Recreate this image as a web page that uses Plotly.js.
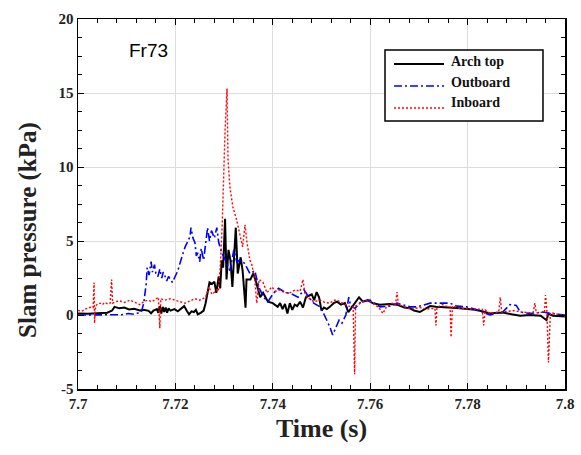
<!DOCTYPE html>
<html>
<head>
<meta charset="utf-8">
<script src="https://cdn.plot.ly/plotly-3.0.1.min.js"></script>
<style>
html,body{margin:0;padding:0;background:#fff;}
#chart{width:581px;height:455px;}
</style>
</head>
<body>
<div id="chart"></div>
<script>
// ---- Data ----
const seriesNames = ["Arch top", "Outboard", "Inboard"];

const archTime = [7.7000,7.7020,7.7040,7.7060,7.7070,7.7075,7.7085,7.7095,7.7105,7.7115,7.7127,7.7135,7.7145,7.7150,7.7155,7.7162,7.7165,7.7168,7.7171,7.7174,7.7177,7.7180,7.7183,7.7186,7.7190,7.7198,7.7205,7.7212,7.7218,7.7223,7.7228,7.7233,7.7238,7.7242,7.7246,7.7252,7.7258,7.7262,7.7266,7.7270,7.7275,7.7280,7.7284,7.7289,7.7292,7.7295,7.7298,7.7302,7.7305,7.7309,7.7313,7.7317,7.7321,7.7324,7.7328,7.7334,7.7338,7.7344,7.7346,7.7354,7.7360,7.7366,7.7374,7.7380,7.7390,7.7400,7.7410,7.7415,7.7420,7.7425,7.7430,7.7435,7.7440,7.7445,7.7450,7.7456,7.7462,7.7468,7.7474,7.7480,7.7485,7.7490,7.7495,7.7500,7.7505,7.7511,7.7517,7.7525,7.7532,7.7540,7.7548,7.7555,7.7562,7.7570,7.7577,7.7585,7.7595,7.7605,7.7620,7.7640,7.7655,7.7670,7.7682,7.7690,7.7702,7.7712,7.7723,7.7735,7.7743,7.7760,7.7784,7.7800,7.7815,7.7830,7.7846,7.7860,7.7875,7.7890,7.7908,7.7928,7.7940,7.7950,7.7962,7.7966,7.7975,7.7990,7.8000];
const archP = [0.10,0.08,0.12,0.15,0.30,0.55,0.45,0.50,0.38,0.42,0.30,0.35,0.28,0.12,0.30,0.40,0.15,0.60,0.10,0.55,0.20,0.50,0.15,0.45,0.30,0.40,0.25,0.45,0.60,0.30,0.05,0.25,0.20,0.35,0.05,0.15,0.30,0.80,1.60,2.20,2.10,2.25,1.50,2.60,1.80,3.70,3.20,6.50,2.40,4.40,3.70,1.90,4.20,5.90,2.80,3.90,3.00,0.50,2.40,2.40,2.80,2.20,1.20,1.50,0.90,0.80,0.55,0.80,0.40,0.75,0.10,0.80,0.35,0.70,0.60,0.90,0.50,1.20,1.30,1.40,1.00,1.55,1.20,0.30,0.50,0.40,0.55,0.80,0.90,0.70,0.80,0.20,0.50,0.90,1.20,0.90,1.00,0.80,0.70,0.75,0.70,0.50,0.45,0.30,0.20,0.40,0.60,0.55,0.55,0.50,0.45,0.40,0.35,0.25,0.10,0.15,0.15,0.05,-0.05,0.00,-0.02,-0.05,-0.35,0.10,-0.05,-0.10,-0.10];

const outTime = [7.7000,7.7030,7.7060,7.7090,7.7103,7.7115,7.7125,7.7130,7.7135,7.7140,7.7142,7.7146,7.7150,7.7153,7.7157,7.7160,7.7164,7.7168,7.7172,7.7175,7.7178,7.7182,7.7186,7.7190,7.7194,7.7198,7.7205,7.7214,7.7220,7.7230,7.7232,7.7236,7.7240,7.7243,7.7246,7.7250,7.7253,7.7258,7.7262,7.7266,7.7270,7.7274,7.7280,7.7285,7.7289,7.7295,7.7300,7.7306,7.7312,7.7320,7.7326,7.7332,7.7342,7.7353,7.7363,7.7371,7.7381,7.7390,7.7402,7.7412,7.7424,7.7440,7.7452,7.7464,7.7474,7.7484,7.7497,7.7503,7.7511,7.7517,7.7523,7.7530,7.7536,7.7542,7.7550,7.7556,7.7560,7.7569,7.7581,7.7600,7.7620,7.7641,7.7655,7.7682,7.7696,7.7723,7.7764,7.7778,7.7798,7.7819,7.7846,7.7872,7.7887,7.7900,7.7908,7.7928,7.7955,7.7969,7.8000];
const outP = [0.00,0.00,0.02,0.02,0.10,0.05,0.15,0.20,0.80,2.10,3.20,2.70,3.60,2.90,3.40,2.80,2.60,3.10,2.50,2.90,2.70,2.30,2.60,2.40,2.20,2.50,3.00,4.00,4.60,5.30,5.90,5.20,4.90,4.00,4.20,3.60,4.50,3.70,4.90,5.90,5.00,5.70,5.20,5.90,4.90,4.20,3.90,3.50,3.00,4.40,3.60,3.70,3.50,2.80,3.00,1.90,1.20,0.90,1.50,1.80,1.55,1.40,1.20,1.70,1.20,0.80,0.55,0.20,-0.35,-0.80,-1.35,-0.80,-0.35,-0.55,0.00,1.20,0.60,0.45,0.90,1.00,0.55,0.60,0.80,0.55,0.55,0.80,0.80,0.60,0.55,0.35,0.00,0.20,0.70,0.65,0.20,0.10,0.20,0.10,0.00];

const inTime = [7.7000,7.7008,7.7015,7.7022,7.7028,7.7031,7.7033,7.7034,7.7036,7.7040,7.7045,7.7050,7.7055,7.7061,7.7066,7.7069,7.7071,7.7078,7.7086,7.7095,7.7107,7.7117,7.7127,7.7135,7.7143,7.7152,7.7160,7.7165,7.7168,7.7170,7.7178,7.7190,7.7204,7.7212,7.7220,7.7230,7.7240,7.7250,7.7262,7.7269,7.7275,7.7279,7.7284,7.7288,7.7292,7.7296,7.7299,7.7302,7.7306,7.7308,7.7312,7.7318,7.7326,7.7332,7.7338,7.7343,7.7347,7.7353,7.7357,7.7363,7.7367,7.7372,7.7380,7.7388,7.7398,7.7406,7.7415,7.7424,7.7435,7.7446,7.7456,7.7462,7.7466,7.7472,7.7484,7.7497,7.7507,7.7517,7.7525,7.7532,7.7544,7.7555,7.7565,7.7568,7.7570,7.7580,7.7590,7.7600,7.7610,7.7618,7.7626,7.7634,7.7645,7.7652,7.7655,7.7658,7.7667,7.7682,7.7702,7.7715,7.7733,7.7735,7.7737,7.7748,7.7756,7.7764,7.7766,7.7769,7.7784,7.7805,7.7830,7.7833,7.7836,7.7846,7.7864,7.7867,7.7870,7.7880,7.7895,7.7910,7.7928,7.7935,7.7938,7.7941,7.7952,7.7958,7.7960,7.7963,7.7966,7.7970,7.7980,7.7990,7.8000];
const inP = [0.30,0.25,0.40,0.50,0.55,0.50,2.20,-0.55,0.60,0.75,0.80,0.70,0.85,0.75,0.80,2.40,0.80,0.90,0.95,0.85,1.00,0.85,0.70,0.90,1.00,0.90,1.10,1.20,-0.90,1.10,1.00,1.10,0.95,0.85,0.80,0.95,1.10,1.00,1.20,1.90,1.40,1.50,1.70,1.60,3.20,6.00,9.30,12.50,15.30,10.50,8.60,7.30,6.40,5.50,4.60,6.10,4.90,3.70,3.40,2.40,0.80,2.40,2.20,1.50,1.90,1.60,1.70,1.50,1.50,1.70,1.60,2.40,1.40,1.20,0.90,1.00,0.85,0.80,1.00,1.00,0.80,0.60,0.55,-4.00,0.60,0.80,1.00,0.90,0.70,0.50,0.10,0.60,0.80,0.70,1.55,0.70,0.60,0.40,0.50,0.40,0.45,-0.70,0.50,0.70,0.60,0.55,-1.50,0.60,0.45,0.40,0.40,-0.70,0.35,0.10,0.20,1.20,0.20,0.25,0.30,0.20,0.15,0.20,0.80,0.15,0.15,0.20,1.35,0.20,-3.20,0.15,0.10,0.00,-0.10];

const xTickVals = [7.7, 7.72, 7.74, 7.76, 7.78, 7.8];
const xTickText = ["7.7", "7.72", "7.74", "7.76", "7.78", "7.8"];
const yTickVals = [-5, 0, 5, 10, 15, 20];
const yTickText = ["-5", "0", "5", "10", "15", "20"];

// ---- Styles ----
const serif = "Liberation Serif, Times New Roman, serif";
const colors = ["#000000", "#0000ff", "#ff0000"];
const widths = [2, 1.6, 1.4];
const dashes = ["solid", "8px,3px,2px,3px", "2px,2px"];

const traces = seriesNames.map((nm, i) => ({
  x: [archTime, outTime, inTime][i],
  y: [archP, outP, inP][i],
  name: nm, type: "scatter", mode: "lines", showlegend: false,
  line: {color: colors[i], width: widths[i], dash: dashes[i]}
}));

const axisCommon = {
  showline: true, linecolor: "#000", linewidth: 1.5, mirror: "ticks",
  ticks: "inside", ticklen: 6, tickwidth: 1, tickcolor: "#000",
  showgrid: true, gridcolor: "#dcdcdc", gridwidth: 1, zeroline: false,
  tickfont: {family: serif, size: 15, color: "#222", weight: "bold"}
};

// Legend box (drawn by hand so line samples match the reference length)
const legBox = {x0: 0.6304, x1: 0.9548, y0: 0.7243, y1: 0.9162};
const legLineY = [0.8784, 0.8189, 0.7595];
const legTextY = [0.8892, 0.8297, 0.7730];
const legTextShift = [-2, 0, 0];
const legLineX = [0.6489, 0.7515];
const legTextX = 0.7618;

const shapes = [{
  type: "rect", xref: "paper", yref: "paper",
  x0: legBox.x0, x1: legBox.x1, y0: legBox.y0, y1: legBox.y1,
  fillcolor: "#fff", line: {color: "#000", width: 1.5}, layer: "above"
}];
const annotations = [{
  text: "Fr73", xref: "paper", yref: "paper", x: 0.10, y: 0.916,
  xanchor: "left", yanchor: "middle", showarrow: false,
  font: {family: "Liberation Sans, Arial, sans-serif", size: 19, color: "#000"}
}, {
  text: "Slam pressure (kPa)", xref: "paper", yref: "paper",
  x: -0.1027, y: 0.43, textangle: -90, xanchor: "center", yanchor: "middle",
  showarrow: false, font: {family: serif, size: 25, color: "#222", weight: "bold"}
}];
seriesNames.forEach((nm, i) => {
  shapes.push({
    type: "line", xref: "paper", yref: "paper",
    x0: legLineX[0], x1: legLineX[1], y0: legLineY[i], y1: legLineY[i],
    line: {color: colors[i], width: i === 0 ? 2 : 1.6, dash: dashes[i]}, layer: "above"
  });
  annotations.push({
    text: nm, xref: "paper", yref: "paper", x: legTextX, y: legTextY[i], yshift: legTextShift[i],
    xanchor: "left", yanchor: "middle", showarrow: false,
    font: {family: serif, size: 14, color: "#111", weight: "bold"}
  });
});

const layout = {
  width: 581, height: 455,
  margin: {l: 78, r: 16, t: 19, b: 66},
  paper_bgcolor: "#fff", plot_bgcolor: "#fff",
  showlegend: false,
  xaxis: Object.assign({}, axisCommon, {
    range: [7.7, 7.8], tickmode: "array", tickvals: xTickVals, ticktext: xTickText,
    minor: {dtick: 0.004, ticks: "inside", ticklen: 4, tickcolor: "#000", showgrid: false},
    title: {text: "Time (s)", font: {family: serif, size: 26, color: "#222", weight: "bold"}, standoff: 8}
  }),
  yaxis: Object.assign({}, axisCommon, {
    range: [-5, 20], tickmode: "array", tickvals: yTickVals, ticktext: yTickText,
    minor: {dtick: 1.25, ticks: "inside", ticklen: 4, tickcolor: "#000", showgrid: false}
  }),
  shapes: shapes,
  annotations: annotations
};

Plotly.newPlot("chart", traces, layout, {displayModeBar: false, staticPlot: true});
</script>
</body>
</html>
